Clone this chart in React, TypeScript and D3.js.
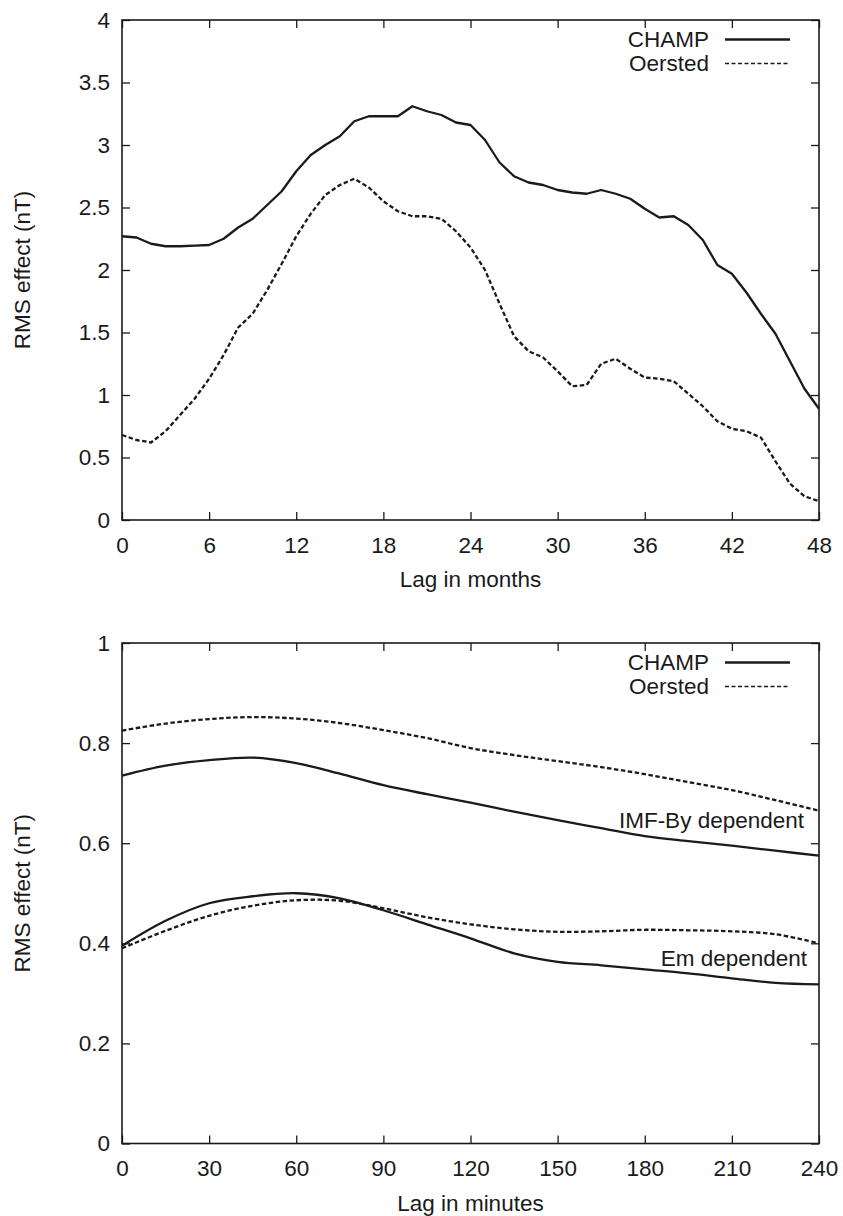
import React, { useRef, useEffect } from 'react';
import * as d3 from 'd3';

// top panel: lag in months
const months = d3.range(0, 49);
const champMonths = [
  2.27, 2.26, 2.21, 2.19, 2.19, 2.195, 2.2, 2.25, 2.34, 2.41, 2.52, 2.63, 2.79,
  2.92, 3.0, 3.07, 3.19, 3.23, 3.23, 3.23, 3.31, 3.27, 3.24, 3.18, 3.16, 3.04,
  2.86, 2.75, 2.7, 2.68, 2.64, 2.62, 2.61, 2.64, 2.61, 2.57, 2.49, 2.42, 2.43,
  2.36, 2.24, 2.04, 1.97, 1.82, 1.65, 1.49, 1.27, 1.05, 0.89,
];
const oerstedMonths = [
  0.68, 0.64, 0.62, 0.71, 0.84, 0.97, 1.13, 1.32, 1.54, 1.65, 1.84, 2.05, 2.27,
  2.45, 2.6, 2.68, 2.73, 2.66, 2.55, 2.47, 2.43, 2.43, 2.41, 2.31, 2.18, 2.0,
  1.73, 1.47, 1.35, 1.3, 1.19, 1.07, 1.08, 1.25, 1.29, 1.21, 1.14, 1.13, 1.11,
  1.01, 0.91, 0.79, 0.73, 0.71, 0.66, 0.47, 0.29, 0.19, 0.15,
];
const topXTicks = [0, 6, 12, 18, 24, 30, 36, 42, 48];
const topYTicks = [0, 0.5, 1, 1.5, 2, 2.5, 3, 3.5, 4];

// bottom panel: lag in minutes
const minutes = [0, 15, 30, 45, 60, 75, 90, 105, 120, 135, 150, 165, 180, 195, 210, 225, 240];
const champImf = [0.735, 0.755, 0.766, 0.771, 0.76, 0.739, 0.716, 0.698, 0.681, 0.663, 0.646, 0.63, 0.614, 0.604, 0.595, 0.585, 0.575];
const oerstedImf = [0.825, 0.839, 0.848, 0.852, 0.849, 0.84, 0.826, 0.81, 0.79, 0.776, 0.764, 0.752, 0.738, 0.722, 0.706, 0.686, 0.665];
const champEm = [0.395, 0.445, 0.48, 0.494, 0.5, 0.49, 0.466, 0.438, 0.41, 0.38, 0.363, 0.356, 0.348, 0.34, 0.33, 0.321, 0.318];
const oerstedEm = [0.39, 0.425, 0.455, 0.475, 0.486, 0.485, 0.47, 0.452, 0.438, 0.428, 0.423, 0.424, 0.427, 0.426, 0.424, 0.418, 0.4];
const bottomXTicks = [0, 30, 60, 90, 120, 150, 180, 210, 240];
const bottomYTicks = [0, 0.2, 0.4, 0.6, 0.8, 1];

const FONT = '"Liberation Sans", Arial, Helvetica, sans-serif';
const INK = '#1a1a1a';
const FS = '22.5px';

const W = 843;
const H = 1216;
const left = 122;
const right = 819;

function drawPanel(svg, opts) {
  const { top, bottom, xDomain, yDomain, xTicks, yTicks, xTitle, series, curve, notes } = opts;
  const g = svg.append('g');
  const x = d3.scaleLinear().domain(xDomain).range([left, right]);
  const y = d3.scaleLinear().domain(yDomain).range([bottom, top]);
  const fmt = d => String(+d.toFixed(2));

  const styleAxis = (sel, labels) => {
    sel.select('.domain').remove();
    sel.selectAll('line').attr('stroke', INK).attr('stroke-width', 1.3);
    if (labels) {
      sel.selectAll('text').attr('fill', INK).style('font-family', FONT).style('font-size', FS);
    } else {
      sel.selectAll('text').remove();
    }
  };

  g.append('g')
    .attr('transform', `translate(0,${bottom})`)
    .call(d3.axisBottom(x).tickValues(xTicks).tickFormat(fmt).tickSizeInner(-8).tickSizeOuter(0).tickPadding(17))
    .call(s => styleAxis(s, true));
  g.append('g')
    .attr('transform', `translate(0,${top})`)
    .call(d3.axisTop(x).tickValues(xTicks).tickSizeInner(-8).tickSizeOuter(0))
    .call(s => styleAxis(s, false));
  g.append('g')
    .attr('transform', `translate(${left},0)`)
    .call(d3.axisLeft(y).tickValues(yTicks).tickFormat(fmt).tickSizeInner(-8).tickSizeOuter(0).tickPadding(12))
    .call(s => styleAxis(s, true));
  g.append('g')
    .attr('transform', `translate(${right},0)`)
    .call(d3.axisRight(y).tickValues(yTicks).tickSizeInner(-8).tickSizeOuter(0))
    .call(s => styleAxis(s, false));

  g.append('rect')
    .attr('x', left).attr('y', top)
    .attr('width', right - left).attr('height', bottom - top)
    .attr('fill', 'none').attr('stroke', INK).attr('stroke-width', 1.6);

  const line = d3.line().x(d => x(d[0])).y(d => y(d[1])).curve(curve);
  series.forEach(s => {
    g.append('path')
      .datum(s.xs.map((v, i) => [v, s.ys[i]]))
      .attr('d', line)
      .attr('fill', 'none')
      .attr('stroke', INK)
      .attr('stroke-width', 2.3)
      .attr('stroke-linejoin', 'round')
      .attr('stroke-dasharray', s.dashed ? '4.5,2.5' : null);
  });

  // legend
  const legend = [
    { name: 'CHAMP', dashed: false },
    { name: 'Oersted', dashed: true },
  ];
  legend.forEach((l, i) => {
    const base = top + 27 + i * 24;
    g.append('text')
      .attr('x', 709).attr('y', base)
      .attr('text-anchor', 'end')
      .attr('fill', INK)
      .style('font-family', FONT).style('font-size', FS)
      .text(l.name);
    g.append('line')
      .attr('x1', 725).attr('x2', 790)
      .attr('y1', base - 7.5).attr('y2', base - 7.5)
      .attr('stroke', INK)
      .attr('stroke-width', l.dashed ? 1.6 : 2.3)
      .attr('stroke-dasharray', l.dashed ? '4,2.5' : null);
  });

  (notes || []).forEach(n => {
    g.append('text')
      .attr('x', n.x).attr('y', n.y)
      .attr('text-anchor', 'end')
      .attr('fill', INK)
      .style('font-family', FONT).style('font-size', FS)
      .text(n.text);
  });

  g.append('text')
    .attr('x', (left + right) / 2).attr('y', bottom + 67)
    .attr('text-anchor', 'middle')
    .attr('fill', INK)
    .style('font-family', FONT).style('font-size', FS)
    .text(xTitle);

  g.append('text')
    .attr('transform', `translate(30,${(top + bottom) / 2}) rotate(-90)`)
    .attr('text-anchor', 'middle')
    .attr('fill', INK)
    .style('font-family', FONT).style('font-size', FS)
    .text('RMS effect (nT)');
}

const App = () => {
  const svgRef = useRef(null);

  useEffect(() => {
    const svg = d3.select(svgRef.current);
    svg.selectAll('*').remove();

    drawPanel(svg, {
      top: 20,
      bottom: 520,
      xDomain: [0, 48],
      yDomain: [0, 4],
      xTicks: topXTicks,
      yTicks: topYTicks,
      xTitle: 'Lag in months',
      curve: d3.curveLinear,
      series: [
        { xs: months, ys: champMonths, dashed: false },
        { xs: months, ys: oerstedMonths, dashed: true },
      ],
    });

    drawPanel(svg, {
      top: 643,
      bottom: 1143.5,
      xDomain: [0, 240],
      yDomain: [0, 1],
      xTicks: bottomXTicks,
      yTicks: bottomYTicks,
      xTitle: 'Lag in minutes',
      curve: d3.curveCatmullRom.alpha(0.5),
      series: [
        { xs: minutes, ys: champImf, dashed: false },
        { xs: minutes, ys: oerstedImf, dashed: true },
        { xs: minutes, ys: champEm, dashed: false },
        { xs: minutes, ys: oerstedEm, dashed: true },
      ],
      notes: [
        { text: 'IMF-By dependent', x: 804, y: 828 },
        { text: 'Em dependent', x: 807, y: 966 },
      ],
    });
  }, []);

  return (
    <svg
      ref={svgRef}
      width={W}
      height={H}
      style={{ position: 'absolute', left: 0, top: 0, background: '#fff' }}
    />
  );
};

export default App;
